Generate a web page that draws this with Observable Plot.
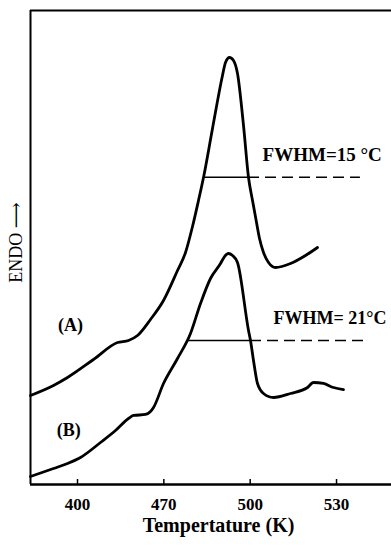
<!DOCTYPE html>
<html><head><meta charset="utf-8">
<script src="https://cdn.jsdelivr.net/npm/d3@7"></script>
<script src="https://cdn.jsdelivr.net/npm/@observablehq/plot@0.6"></script>
<style>body{margin:0;background:#fff}</style>
</head><body><div id="chart"></div>
<script>
// Axis tick positions (evenly spaced on the figure) and their printed labels
const xTickValues = [440, 470, 500, 530];
const xTickLabels = ["400", "470", "500", "530"];

// Curve (A)
const tempA = [423.67, 431.66, 436.53, 445.56, 453.90, 457.72, 460.85, 465.36, 469.88, 474.75, 477.53, 479.96, 482.04, 483.78, 486.91, 490.38, 491.42, 492.81, 494.20, 495.59, 497.68, 499.42, 500.81, 502.20, 503.24, 504.63, 506.37, 508.80, 514.01, 519.22, 523.39];
const endoA = [18.78, 20.89, 22.57, 26.37, 29.96, 30.38, 31.43, 34.81, 38.82, 45.15, 48.95, 54.43, 59.92, 64.77, 75.11, 86.29, 89.03, 90.08, 89.45, 86.71, 75.74, 64.77, 59.92, 55.27, 51.90, 48.95, 46.84, 45.78, 46.62, 48.31, 50.00];

// Curve (B)
const tempB = [423.67, 431.66, 436.53, 441.04, 447.99, 453.20, 457.72, 459.46, 463.63, 465.36, 466.41, 469.88, 474.75, 479.26, 482.74, 486.21, 489.69, 491.08, 492.47, 493.86, 495.59, 499.42, 500.11, 501.15, 502.54, 504.63, 508.10, 514.01, 519.92, 522.00, 525.47, 528.95, 532.42];
const endoB = [1.69, 3.38, 4.43, 5.70, 8.86, 11.39, 13.92, 14.56, 14.77, 15.40, 16.24, 21.31, 26.58, 31.86, 38.19, 43.46, 46.62, 48.10, 48.73, 48.31, 46.84, 32.49, 30.38, 26.16, 21.31, 19.20, 18.35, 19.20, 20.46, 21.52, 21.31, 20.46, 20.04];

// FWHM markers
const fwhmLabels = ["FWHM=15 °C", "FWHM= 21°C"];
const fwhmLevel = [64.8, 30.38];
const fwhmLeft = [483.78, 478.22];
const fwhmRight = [499.42, 500.11];
const fwhmDashEnd = [538.3, 540.1];
const fwhmLabelT = [504.3, 508.1];
const fwhmLabelY = [69.5, 35.0];
const fwhmLabelSize = [19, 18];

// Curve labels
const curveNames = ["(A)", "(B)"];
const curveNameT = [437.6, 437.0];
const curveNameY = [33.5, 11.5];

const xDomain = [423.67, 549.1];
const yDomain = [0, 100];

const lineData = [
  ...tempA.map((t, i) => ({T: t, E: endoA[i], s: "A"})),
  ...tempB.map((t, i) => ({T: t, E: endoB[i], s: "B"}))
];
const fwhm = fwhmLabels.map((l, i) => ({label: l, y: fwhmLevel[i], x1: fwhmLeft[i], x2: fwhmRight[i], x3: fwhmDashEnd[i], lt: fwhmLabelT[i], ly: fwhmLabelY[i], fs: fwhmLabelSize[i]}));
const names = curveNames.map((n, i) => ({n, T: curveNameT[i], E: curveNameY[i]}));

const font = "'Liberation Serif', 'DejaVu Serif', serif";

const chart = Plot.plot({
  width: 391, height: 548,
  marginLeft: 30, marginRight: 0, marginTop: 10, marginBottom: 64,
  style: {fontFamily: font, background: "white", color: "black"},
  x: {domain: xDomain},
  y: {domain: yDomain, axis: null},
  marks: [
    Plot.ruleX([xDomain[0]], {stroke: "black", strokeWidth: 2}),
    Plot.ruleY([yDomain[1]], {stroke: "black", strokeWidth: 2}),
    Plot.ruleY([yDomain[0]], {stroke: "black", strokeWidth: 2.5}),
    Plot.ruleX(xTickValues, {stroke: "black", strokeWidth: 1.5, insetTop: 469}),
    Plot.axisX({ticks: xTickValues, tickFormat: d => xTickLabels[xTickValues.indexOf(d)], tickSize: 0, tickPadding: 13, fontSize: 17, fontWeight: "bold", label: null}),
    Plot.text(["Tempertature (K)"], {x: () => 489, frameAnchor: "bottom", lineAnchor: "top", dy: 33, fontSize: 20, fontWeight: "bold", fill: "black"}),
    Plot.text(["ENDO ⟶"], {frameAnchor: "left", rotate: -90, dx: -14, dy: -5, fontSize: 18, fill: "black", textAnchor: "middle"}),
    Plot.line(lineData, {x: "T", y: "E", z: "s", stroke: "black", strokeWidth: 2.8, curve: "monotone-x"}),
    Plot.ruleY(fwhm, {y: "y", x1: "x1", x2: "x2", stroke: "black", strokeWidth: 1.5}),
    Plot.ruleY(fwhm, {y: "y", x1: "x2", x2: "x3", stroke: "black", strokeWidth: 1.5, strokeDasharray: "11,6"}),
    Plot.text(fwhm, {x: "lt", y: "ly", text: "label", textAnchor: "start", fontSize: "fs", fontWeight: "bold", fill: "black"}),
    Plot.text(names, {x: "T", y: "E", text: "n", fontSize: 18, fontWeight: "bold", fill: "black"})
  ]
});
document.getElementById("chart").appendChild(chart);
</script>
</body></html>
